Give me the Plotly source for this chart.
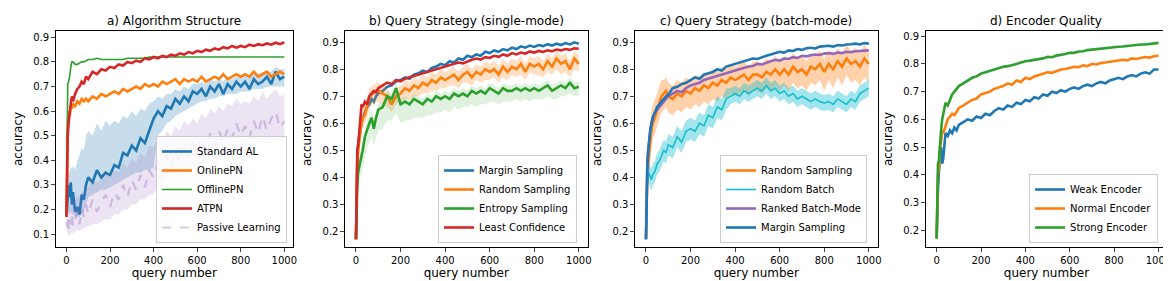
import plotly.graph_objects as go

# query positions (shared by every series)
QX = [0, 3, 6, 10, 15, 20, 25, 30, 40, 50, 60, 70, 80, 90] + list(range(100, 1001, 20))
X_TICKS = [0, 200, 400, 600, 800, 1000]

# ---------------- a) Algorithm Structure ----------------
STANDARD_AL = [0.17, 0.22, 0.28, 0.30, 0.25, 0.31, 0.22, 0.27, 0.19, 0.21,
               0.18, 0.26, 0.24, 0.30, 0.33, 0.31, 0.36, 0.33, 0.35, 0.34,
               0.38, 0.37, 0.43, 0.42, 0.46, 0.44, 0.49, 0.47, 0.52, 0.57,
               0.60, 0.58, 0.62, 0.61, 0.65, 0.63, 0.66, 0.64, 0.68, 0.67,
               0.69, 0.66, 0.70, 0.68, 0.71, 0.67, 0.71, 0.69, 0.72, 0.70,
               0.72, 0.69, 0.73, 0.71, 0.72, 0.74, 0.71, 0.76, 0.73, 0.74]
STANDARD_AL_LO = [0.17, 0.17, 0.18, 0.19, 0.18, 0.19, 0.18, 0.18, 0.17, 0.17,
                  0.17, 0.18, 0.19, 0.22, 0.25, 0.26, 0.27, 0.28, 0.28, 0.29,
                  0.30, 0.31, 0.32, 0.33, 0.34, 0.35, 0.35, 0.36, 0.36, 0.37,
                  0.50, 0.52, 0.55, 0.56, 0.58, 0.59, 0.60, 0.61, 0.62, 0.63,
                  0.64, 0.64, 0.65, 0.65, 0.66, 0.66, 0.67, 0.67, 0.67, 0.68,
                  0.68, 0.68, 0.69, 0.69, 0.69, 0.70, 0.70, 0.70, 0.70, 0.70]
STANDARD_AL_HI = [0.17, 0.28, 0.33, 0.36, 0.35, 0.38, 0.36, 0.38, 0.36, 0.40,
                  0.42, 0.45, 0.44, 0.50, 0.52, 0.50, 0.55, 0.52, 0.56, 0.54,
                  0.56, 0.55, 0.58, 0.57, 0.60, 0.58, 0.61, 0.60, 0.63, 0.64,
                  0.66, 0.65, 0.67, 0.67, 0.69, 0.68, 0.70, 0.69, 0.71, 0.71,
                  0.72, 0.71, 0.73, 0.72, 0.73, 0.72, 0.74, 0.73, 0.74, 0.74,
                  0.75, 0.74, 0.75, 0.75, 0.76, 0.76, 0.76, 0.78, 0.77, 0.77]
ONLINE_PN = [0.17, 0.45, 0.55, 0.60, 0.58, 0.62, 0.61, 0.63, 0.62, 0.64,
             0.63, 0.65, 0.64, 0.65, 0.64, 0.66, 0.65, 0.67, 0.66, 0.67,
             0.68, 0.67, 0.69, 0.68, 0.69, 0.70, 0.69, 0.71, 0.70, 0.71,
             0.70, 0.72, 0.71, 0.72, 0.73, 0.71, 0.73, 0.72, 0.73, 0.72,
             0.74, 0.72, 0.73, 0.74, 0.73, 0.75, 0.73, 0.74, 0.75, 0.74,
             0.75, 0.74, 0.76, 0.74, 0.75, 0.76, 0.74, 0.75, 0.76, 0.75]
OFFLINE_PN = [0.17, 0.70, 0.71, 0.72, 0.74, 0.78, 0.80, 0.80, 0.79, 0.79,
              0.795, 0.80, 0.80, 0.805, 0.81, 0.81, 0.815, 0.81, 0.81, 0.81,
              0.81, 0.81, 0.81, 0.815, 0.815, 0.815, 0.815, 0.815, 0.82, 0.82,
              0.82, 0.82, 0.82, 0.82, 0.82, 0.82, 0.82, 0.82, 0.82, 0.82,
              0.82, 0.82, 0.82, 0.82, 0.82, 0.82, 0.82, 0.82, 0.82, 0.82,
              0.82, 0.82, 0.82, 0.82, 0.82, 0.82, 0.82, 0.82, 0.82, 0.82]
ATPN = [0.17, 0.44, 0.50, 0.55, 0.60, 0.63, 0.66, 0.64, 0.67, 0.69,
        0.70, 0.72, 0.71, 0.74, 0.73, 0.76, 0.75, 0.77, 0.765, 0.78,
        0.775, 0.79, 0.785, 0.80, 0.795, 0.805, 0.80, 0.815, 0.81, 0.82,
        0.815, 0.825, 0.82, 0.83, 0.825, 0.835, 0.83, 0.84, 0.835, 0.845,
        0.84, 0.85, 0.845, 0.855, 0.85, 0.86, 0.855, 0.865, 0.858, 0.865,
        0.86, 0.87, 0.865, 0.872, 0.868, 0.875, 0.87, 0.878, 0.872, 0.88]
PASSIVE = [0.15, 0.13, 0.17, 0.12, 0.16, 0.14, 0.18, 0.13, 0.16, 0.19,
           0.14, 0.20, 0.17, 0.22, 0.18, 0.24, 0.19, 0.23, 0.26, 0.21,
           0.27, 0.24, 0.30, 0.25, 0.32, 0.28, 0.34, 0.29, 0.36, 0.33,
           0.40, 0.35, 0.42, 0.37, 0.44, 0.39, 0.46, 0.41, 0.47, 0.43,
           0.49, 0.44, 0.51, 0.46, 0.52, 0.47, 0.53, 0.49, 0.55, 0.50,
           0.54, 0.49, 0.56, 0.51, 0.58, 0.52, 0.57, 0.60, 0.53, 0.56]
PASSIVE_LO = [0.12, 0.10, 0.11, 0.09, 0.10, 0.10, 0.11, 0.10, 0.11, 0.12,
              0.11, 0.12, 0.12, 0.13, 0.13, 0.14, 0.14, 0.15, 0.16, 0.16,
              0.18, 0.18, 0.20, 0.20, 0.22, 0.22, 0.24, 0.24, 0.26, 0.26,
              0.30, 0.30, 0.32, 0.32, 0.34, 0.34, 0.36, 0.36, 0.37, 0.37,
              0.39, 0.39, 0.41, 0.41, 0.42, 0.42, 0.43, 0.43, 0.44, 0.44,
              0.45, 0.45, 0.46, 0.46, 0.47, 0.47, 0.47, 0.48, 0.48, 0.48]
PASSIVE_HI = [0.18, 0.19, 0.21, 0.20, 0.22, 0.22, 0.24, 0.23, 0.24, 0.26,
              0.25, 0.27, 0.27, 0.30, 0.29, 0.32, 0.31, 0.32, 0.35, 0.33,
              0.36, 0.35, 0.39, 0.37, 0.41, 0.39, 0.43, 0.41, 0.46, 0.45,
              0.50, 0.48, 0.52, 0.50, 0.54, 0.52, 0.56, 0.54, 0.57, 0.55,
              0.59, 0.57, 0.61, 0.59, 0.62, 0.60, 0.63, 0.62, 0.65, 0.63,
              0.64, 0.63, 0.66, 0.64, 0.68, 0.65, 0.67, 0.69, 0.66, 0.67]

# ---------------- b) Query Strategy (single-mode) ----------------
MARGIN_B = [0.17, 0.40, 0.48, 0.53, 0.55, 0.58, 0.60, 0.62, 0.64, 0.66,
            0.67, 0.69, 0.68, 0.70, 0.71, 0.72, 0.735, 0.74, 0.755, 0.76,
            0.77, 0.765, 0.78, 0.785, 0.795, 0.79, 0.805, 0.81, 0.82, 0.815,
            0.83, 0.825, 0.84, 0.835, 0.85, 0.845, 0.855, 0.85, 0.865, 0.86,
            0.87, 0.865, 0.875, 0.87, 0.88, 0.875, 0.885, 0.88, 0.888, 0.883,
            0.89, 0.886, 0.893, 0.888, 0.895, 0.89, 0.897, 0.892, 0.90, 0.895]
RANDOM_B = [0.17, 0.38, 0.45, 0.50, 0.55, 0.57, 0.60, 0.62, 0.63, 0.66,
            0.70, 0.71, 0.71, 0.72, 0.72, 0.71, 0.70, 0.67, 0.70, 0.71,
            0.73, 0.72, 0.74, 0.73, 0.75, 0.74, 0.76, 0.75, 0.77, 0.76,
            0.77, 0.78, 0.76, 0.78, 0.79, 0.77, 0.79, 0.78, 0.80, 0.79,
            0.80, 0.78, 0.81, 0.79, 0.81, 0.80, 0.82, 0.79, 0.82, 0.81,
            0.82, 0.80, 0.83, 0.81, 0.84, 0.82, 0.83, 0.80, 0.84, 0.82]
RANDOM_B_LO = [0.17, 0.33, 0.40, 0.45, 0.50, 0.53, 0.56, 0.58, 0.60, 0.62,
               0.65, 0.67, 0.67, 0.68, 0.68, 0.67, 0.66, 0.64, 0.67, 0.68,
               0.69, 0.69, 0.70, 0.70, 0.71, 0.71, 0.72, 0.72, 0.73, 0.73,
               0.74, 0.74, 0.73, 0.75, 0.75, 0.74, 0.76, 0.75, 0.76, 0.76,
               0.77, 0.75, 0.77, 0.76, 0.78, 0.77, 0.78, 0.76, 0.79, 0.78,
               0.78, 0.77, 0.79, 0.78, 0.80, 0.78, 0.79, 0.77, 0.80, 0.79]
RANDOM_B_HI = [0.17, 0.43, 0.50, 0.55, 0.60, 0.61, 0.64, 0.66, 0.67, 0.70,
               0.73, 0.74, 0.74, 0.75, 0.75, 0.74, 0.73, 0.70, 0.73, 0.74,
               0.76, 0.75, 0.77, 0.76, 0.78, 0.77, 0.79, 0.78, 0.80, 0.79,
               0.80, 0.81, 0.79, 0.81, 0.82, 0.80, 0.82, 0.81, 0.83, 0.82,
               0.83, 0.81, 0.84, 0.82, 0.84, 0.83, 0.85, 0.82, 0.85, 0.84,
               0.85, 0.83, 0.86, 0.84, 0.87, 0.85, 0.86, 0.83, 0.87, 0.85]
ENTROPY = [0.17, 0.30, 0.38, 0.42, 0.44, 0.45, 0.48, 0.50, 0.55, 0.58,
           0.60, 0.62, 0.58, 0.62, 0.65, 0.66, 0.70, 0.69, 0.73, 0.67,
           0.68, 0.67, 0.69, 0.68, 0.67, 0.69, 0.68, 0.70, 0.69, 0.70,
           0.69, 0.71, 0.70, 0.71, 0.70, 0.72, 0.71, 0.72, 0.71, 0.73,
           0.72, 0.71, 0.73, 0.72, 0.72, 0.73, 0.72, 0.73, 0.72, 0.73,
           0.72, 0.73, 0.74, 0.72, 0.73, 0.74, 0.73, 0.75, 0.73, 0.735]
ENTROPY_LO = [0.17, 0.26, 0.33, 0.36, 0.38, 0.39, 0.42, 0.44, 0.48, 0.51,
              0.53, 0.55, 0.52, 0.55, 0.57, 0.58, 0.61, 0.61, 0.64, 0.60,
              0.61, 0.61, 0.62, 0.62, 0.62, 0.63, 0.63, 0.64, 0.64, 0.65,
              0.64, 0.66, 0.65, 0.66, 0.66, 0.67, 0.66, 0.67, 0.67, 0.68,
              0.68, 0.67, 0.68, 0.68, 0.68, 0.69, 0.68, 0.69, 0.68, 0.69,
              0.69, 0.69, 0.70, 0.69, 0.69, 0.70, 0.70, 0.71, 0.70, 0.70]
ENTROPY_HI = [0.17, 0.33, 0.41, 0.45, 0.47, 0.48, 0.51, 0.53, 0.58, 0.61,
              0.63, 0.65, 0.61, 0.65, 0.67, 0.68, 0.72, 0.71, 0.75, 0.69,
              0.70, 0.69, 0.71, 0.70, 0.69, 0.71, 0.70, 0.72, 0.71, 0.72,
              0.71, 0.73, 0.72, 0.73, 0.72, 0.74, 0.73, 0.74, 0.73, 0.75,
              0.74, 0.73, 0.75, 0.74, 0.74, 0.75, 0.74, 0.75, 0.74, 0.75,
              0.74, 0.75, 0.76, 0.74, 0.75, 0.76, 0.75, 0.77, 0.75, 0.755]
LEAST_CONF = [0.17, 0.45, 0.50, 0.52, 0.58, 0.62, 0.67, 0.66, 0.68, 0.67,
              0.70, 0.71, 0.72, 0.715, 0.73, 0.74, 0.75, 0.745, 0.76, 0.755,
              0.765, 0.77, 0.775, 0.78, 0.785, 0.79, 0.795, 0.80, 0.805, 0.81,
              0.815, 0.82, 0.825, 0.822, 0.83, 0.835, 0.84, 0.836, 0.845, 0.842,
              0.85, 0.846, 0.855, 0.85, 0.86, 0.855, 0.862, 0.858, 0.866, 0.862,
              0.868, 0.864, 0.87, 0.867, 0.873, 0.87, 0.875, 0.872, 0.878, 0.876]

# ---------------- c) Query Strategy (batch-mode) ----------------
RANDOM_C = [0.17, 0.30, 0.40, 0.45, 0.50, 0.55, 0.58, 0.60, 0.62, 0.65,
            0.68, 0.70, 0.71, 0.72, 0.70, 0.69, 0.71, 0.70, 0.72, 0.71,
            0.73, 0.72, 0.74, 0.73, 0.75, 0.74, 0.76, 0.75, 0.77, 0.76,
            0.77, 0.78, 0.76, 0.78, 0.78, 0.77, 0.79, 0.78, 0.80, 0.78,
            0.80, 0.78, 0.81, 0.79, 0.80, 0.78, 0.81, 0.80, 0.82, 0.79,
            0.82, 0.80, 0.83, 0.81, 0.84, 0.82, 0.83, 0.81, 0.84, 0.82]
RANDOM_C_LO = [0.17, 0.24, 0.33, 0.38, 0.43, 0.48, 0.52, 0.54, 0.56, 0.59,
               0.62, 0.64, 0.65, 0.66, 0.64, 0.63, 0.65, 0.64, 0.66, 0.65,
               0.67, 0.66, 0.68, 0.67, 0.69, 0.68, 0.70, 0.69, 0.71, 0.70,
               0.71, 0.72, 0.70, 0.72, 0.72, 0.71, 0.73, 0.72, 0.74, 0.72,
               0.74, 0.72, 0.75, 0.73, 0.74, 0.72, 0.75, 0.74, 0.76, 0.72,
               0.76, 0.73, 0.77, 0.74, 0.78, 0.75, 0.76, 0.74, 0.77, 0.75]
RANDOM_C_HI = [0.17, 0.38, 0.48, 0.53, 0.58, 0.62, 0.65, 0.67, 0.69, 0.71,
               0.74, 0.76, 0.76, 0.77, 0.75, 0.74, 0.76, 0.75, 0.77, 0.76,
               0.78, 0.77, 0.79, 0.78, 0.80, 0.79, 0.81, 0.80, 0.82, 0.81,
               0.82, 0.83, 0.81, 0.83, 0.83, 0.82, 0.84, 0.83, 0.85, 0.83,
               0.85, 0.83, 0.86, 0.84, 0.85, 0.83, 0.86, 0.85, 0.87, 0.84,
               0.87, 0.85, 0.88, 0.86, 0.89, 0.87, 0.88, 0.86, 0.89, 0.87]
RANDOM_BATCH = [0.17, 0.32, 0.38, 0.42, 0.41, 0.40, 0.39, 0.41, 0.42, 0.45,
                0.46, 0.48, 0.50, 0.49, 0.52, 0.51, 0.55, 0.53, 0.57, 0.58,
                0.57, 0.60, 0.59, 0.63, 0.62, 0.66, 0.65, 0.69, 0.70, 0.71,
                0.70, 0.72, 0.71, 0.72, 0.73, 0.72, 0.74, 0.72, 0.73, 0.71,
                0.72, 0.70, 0.71, 0.69, 0.70, 0.69, 0.68, 0.69, 0.68, 0.675,
                0.68, 0.67, 0.69, 0.68, 0.67, 0.69, 0.68, 0.71, 0.72, 0.73]
RANDOM_BATCH_LO = [0.17, 0.28, 0.34, 0.38, 0.37, 0.36, 0.35, 0.37, 0.38, 0.41,
                   0.42, 0.44, 0.46, 0.45, 0.48, 0.47, 0.51, 0.49, 0.53, 0.54,
                   0.53, 0.56, 0.55, 0.59, 0.58, 0.62, 0.61, 0.65, 0.67, 0.68,
                   0.67, 0.69, 0.68, 0.69, 0.70, 0.69, 0.71, 0.69, 0.70, 0.68,
                   0.69, 0.67, 0.68, 0.66, 0.67, 0.66, 0.65, 0.66, 0.65, 0.645,
                   0.65, 0.64, 0.66, 0.65, 0.64, 0.66, 0.65, 0.68, 0.69, 0.70]
RANDOM_BATCH_HI = [0.17, 0.36, 0.42, 0.46, 0.45, 0.44, 0.43, 0.45, 0.46, 0.49,
                   0.50, 0.52, 0.54, 0.53, 0.56, 0.55, 0.59, 0.57, 0.61, 0.62,
                   0.61, 0.64, 0.63, 0.67, 0.66, 0.70, 0.69, 0.73, 0.73, 0.74,
                   0.73, 0.75, 0.74, 0.75, 0.76, 0.75, 0.77, 0.75, 0.76, 0.74,
                   0.75, 0.73, 0.74, 0.72, 0.73, 0.72, 0.71, 0.72, 0.71, 0.705,
                   0.71, 0.70, 0.72, 0.71, 0.70, 0.72, 0.71, 0.74, 0.75, 0.76]
RANKED = [0.17, 0.38, 0.45, 0.50, 0.55, 0.58, 0.60, 0.62, 0.64, 0.65,
          0.66, 0.67, 0.68, 0.69, 0.70, 0.71, 0.72, 0.715, 0.73, 0.74,
          0.745, 0.75, 0.76, 0.765, 0.77, 0.775, 0.78, 0.785, 0.79, 0.795,
          0.80, 0.805, 0.81, 0.812, 0.82, 0.818, 0.825, 0.83, 0.835, 0.832,
          0.84, 0.838, 0.845, 0.842, 0.85, 0.848, 0.852, 0.855, 0.853, 0.858,
          0.86, 0.857, 0.862, 0.86, 0.865, 0.863, 0.867, 0.868, 0.87, 0.87]
MARGIN_C = [0.17, 0.35, 0.45, 0.50, 0.55, 0.58, 0.60, 0.62, 0.64, 0.66,
            0.67, 0.68, 0.69, 0.70, 0.705, 0.73, 0.735, 0.745, 0.75, 0.76,
            0.77, 0.765, 0.78, 0.785, 0.79, 0.80, 0.795, 0.81, 0.815, 0.82,
            0.825, 0.83, 0.835, 0.84, 0.838, 0.845, 0.85, 0.855, 0.86, 0.865,
            0.862, 0.87, 0.868, 0.875, 0.872, 0.878, 0.88, 0.877, 0.884, 0.885,
            0.887, 0.884, 0.89, 0.888, 0.892, 0.893, 0.895, 0.892, 0.897, 0.895]

# ---------------- d) Encoder Quality ----------------
WEAK = [0.17, 0.28, 0.35, 0.40, 0.48, 0.50, 0.44, 0.46, 0.55, 0.54,
        0.56, 0.55, 0.57, 0.56, 0.58, 0.59, 0.60, 0.595, 0.61, 0.605,
        0.62, 0.615, 0.63, 0.64, 0.635, 0.65, 0.645, 0.66, 0.655, 0.67,
        0.665, 0.68, 0.675, 0.69, 0.685, 0.70, 0.695, 0.705, 0.70, 0.71,
        0.715, 0.71, 0.72, 0.725, 0.72, 0.73, 0.735, 0.73, 0.74, 0.745,
        0.75, 0.745, 0.755, 0.76, 0.755, 0.765, 0.77, 0.765, 0.78, 0.78]
NORMAL = [0.17, 0.30, 0.40, 0.42, 0.50, 0.52, 0.56, 0.55, 0.58, 0.60,
          0.61, 0.62, 0.615, 0.63, 0.64, 0.65, 0.66, 0.67, 0.675, 0.69,
          0.695, 0.70, 0.71, 0.715, 0.72, 0.73, 0.725, 0.74, 0.735, 0.75,
          0.745, 0.755, 0.76, 0.765, 0.77, 0.768, 0.775, 0.78, 0.782, 0.785,
          0.79, 0.788, 0.795, 0.792, 0.80, 0.798, 0.803, 0.805, 0.808, 0.81,
          0.812, 0.815, 0.813, 0.82, 0.818, 0.822, 0.825, 0.823, 0.828, 0.83]
STRONG = [0.17, 0.35, 0.44, 0.45, 0.52, 0.56, 0.60, 0.62, 0.66, 0.65,
          0.67, 0.69, 0.70, 0.71, 0.72, 0.73, 0.74, 0.75, 0.755, 0.765,
          0.77, 0.775, 0.78, 0.785, 0.79, 0.792, 0.795, 0.80, 0.805, 0.81,
          0.812, 0.815, 0.818, 0.82, 0.826, 0.824, 0.83, 0.832, 0.836, 0.84,
          0.84, 0.845, 0.846, 0.85, 0.852, 0.852, 0.855, 0.857, 0.858, 0.86,
          0.862, 0.863, 0.865, 0.866, 0.868, 0.87, 0.87, 0.872, 0.875, 0.876]

TITLES = ["a) Algorithm Structure", "b) Query Strategy (single-mode)",
          "c) Query Strategy (batch-mode)", "d) Encoder Quality"]

BLUE, ORANGE, GREEN, RED = "#1f77b4", "#ff7f0e", "#2ca02c", "#d62728"
PURPLE, CYAN = "#9467bd", "#17becf"

FONT = "DejaVu Sans"
W, H = 1171, 281
X_DOM = [(47.7, 286.0), (338.0, 581.7), (629.0, 872.7), (920.7, 1163.3)]
Y_TOP, Y_BOT = 22.7, 239.3
Y_RANGES = [(0.046, 0.927), (0.14, 0.943), (0.14, 0.943), (0.138, 0.92)]
Y_TICKS = [[0.1, 0.2, 0.3, 0.4, 0.5, 0.6, 0.7, 0.8, 0.9]] + [[0.2, 0.3, 0.4, 0.5, 0.6, 0.7, 0.8, 0.9]] * 3

fig = go.Figure()


def rgba(hexc, a):
    h = hexc.lstrip("#")
    r, g, b = int(h[0:2], 16), int(h[2:4], 16), int(h[4:6], 16)
    return f"rgba({r},{g},{b},{a})"


def band(i, lo, hi, color, alpha):
    ax = "" if i == 1 else str(i)
    fig.add_trace(go.Scatter(x=QX, y=lo, mode="lines", line=dict(width=0, color=color),
                             xaxis="x" + ax, yaxis="y" + ax, showlegend=False, hoverinfo="skip"))
    fig.add_trace(go.Scatter(x=QX, y=hi, mode="lines", line=dict(width=0, color=color),
                             fill="tonexty", fillcolor=rgba(color, alpha),
                             xaxis="x" + ax, yaxis="y" + ax, showlegend=False, hoverinfo="skip"))


def line(i, y, name, color, width=2.6, dash="solid"):
    ax = "" if i == 1 else str(i)
    leg = "legend" if i == 1 else "legend" + str(i)
    fig.add_trace(go.Scatter(x=QX, y=y, mode="lines", name=name,
                             line=dict(color=color, width=width, dash=dash),
                             xaxis="x" + ax, yaxis="y" + ax, legend=leg))


for arr in [STANDARD_AL, STANDARD_AL_LO, STANDARD_AL_HI, ONLINE_PN, OFFLINE_PN, ATPN, PASSIVE,
            PASSIVE_LO, PASSIVE_HI, MARGIN_B, RANDOM_B, RANDOM_B_LO, RANDOM_B_HI, ENTROPY,
            ENTROPY_LO, ENTROPY_HI, LEAST_CONF, RANDOM_C, RANDOM_C_LO, RANDOM_C_HI, RANDOM_BATCH,
            RANDOM_BATCH_LO, RANDOM_BATCH_HI, RANKED, MARGIN_C, WEAK, NORMAL, STRONG]:
    assert len(arr) == len(QX), len(arr)

# a
band(1, STANDARD_AL_LO, STANDARD_AL_HI, BLUE, 0.25)
line(1, STANDARD_AL, "Standard AL", BLUE)
line(1, ONLINE_PN, "OnlinePN", ORANGE)
line(1, OFFLINE_PN, "OfflinePN", GREEN, width=1.6)
line(1, ATPN, "ATPN", RED)
band(1, PASSIVE_LO, PASSIVE_HI, PURPLE, 0.18)
line(1, PASSIVE, "Passive Learning", rgba(PURPLE, 0.35), width=2.2, dash="dash")
# b
line(2, MARGIN_B, "Margin Sampling", BLUE)
band(2, RANDOM_B_LO, RANDOM_B_HI, ORANGE, 0.25)
line(2, RANDOM_B, "Random Sampling", ORANGE)
band(2, ENTROPY_LO, ENTROPY_HI, GREEN, 0.15)
line(2, ENTROPY, "Entropy Sampling", GREEN)
line(2, LEAST_CONF, "Least Confidence", RED)
# c
band(3, RANDOM_C_LO, RANDOM_C_HI, ORANGE, 0.35)
line(3, RANDOM_C, "Random Sampling", ORANGE)
band(3, RANDOM_BATCH_LO, RANDOM_BATCH_HI, CYAN, 0.4)
line(3, RANDOM_BATCH, "Random Batch", CYAN, width=1.6)
line(3, RANKED, "Ranked Batch-Mode", PURPLE)
line(3, MARGIN_C, "Margin Sampling", BLUE)
# d
line(4, WEAK, "Weak Encoder", BLUE)
line(4, NORMAL, "Normal Encoder", ORANGE)
line(4, STRONG, "Strong Encoder", GREEN)

layout = dict(width=W, height=H, margin=dict(l=0, r=0, t=0, b=0),
              paper_bgcolor="white", plot_bgcolor="white",
              font=dict(family=FONT, size=10, color="black"), showlegend=True)

LEG_POS = [(280.0, 235.0), (571.0, 235.0), (862.0, 235.0), (1154.0, 235.0)]
annotations = []
for k in range(4):
    i = k + 1
    ax = "" if i == 1 else str(i)
    x0, x1 = X_DOM[k]
    layout["xaxis" + ax] = dict(domain=[x0 / W, x1 / W], anchor="y" + ax, range=[-50, 1040],
                                tickvals=X_TICKS, ticks="outside", ticklen=3.5, tickwidth=0.8,
                                showline=True, linecolor="black", linewidth=0.8, mirror=True,
                                showgrid=False, zeroline=False,
                                title=dict(text="query number", font=dict(size=12), standoff=0))
    layout["yaxis" + ax] = dict(domain=[1 - Y_BOT / H, 1 - Y_TOP / H], anchor="x" + ax,
                                range=list(Y_RANGES[k]), tickvals=Y_TICKS[k],
                                ticktext=[f"{v:.1f}" for v in Y_TICKS[k]],
                                ticks="outside", ticklen=3.5, tickwidth=0.8,
                                showline=True, linecolor="black", linewidth=0.8, mirror=True,
                                showgrid=False, zeroline=False,
                                title=dict(text="accuracy", font=dict(size=12), standoff=8))
    lx, ly = LEG_POS[k]
    layout["legend" if i == 1 else "legend" + str(i)] = dict(
        x=lx / W, y=1 - ly / H, xanchor="right", yanchor="bottom", traceorder="normal",
        bgcolor="rgba(255,255,255,0.8)", bordercolor="#cccccc", borderwidth=1,
        font=dict(size=10), tracegroupgap=0, itemwidth=30)
    annotations.append(dict(text=TITLES[k], x=(x0 + x1) / 2 / W, y=1 - 13 / H,
                            xref="paper", yref="paper", showarrow=False,
                            font=dict(size=12), xanchor="center", yanchor="middle"))
layout["annotations"] = annotations
fig.update_layout(**layout)
fig.write_html("out.html")
